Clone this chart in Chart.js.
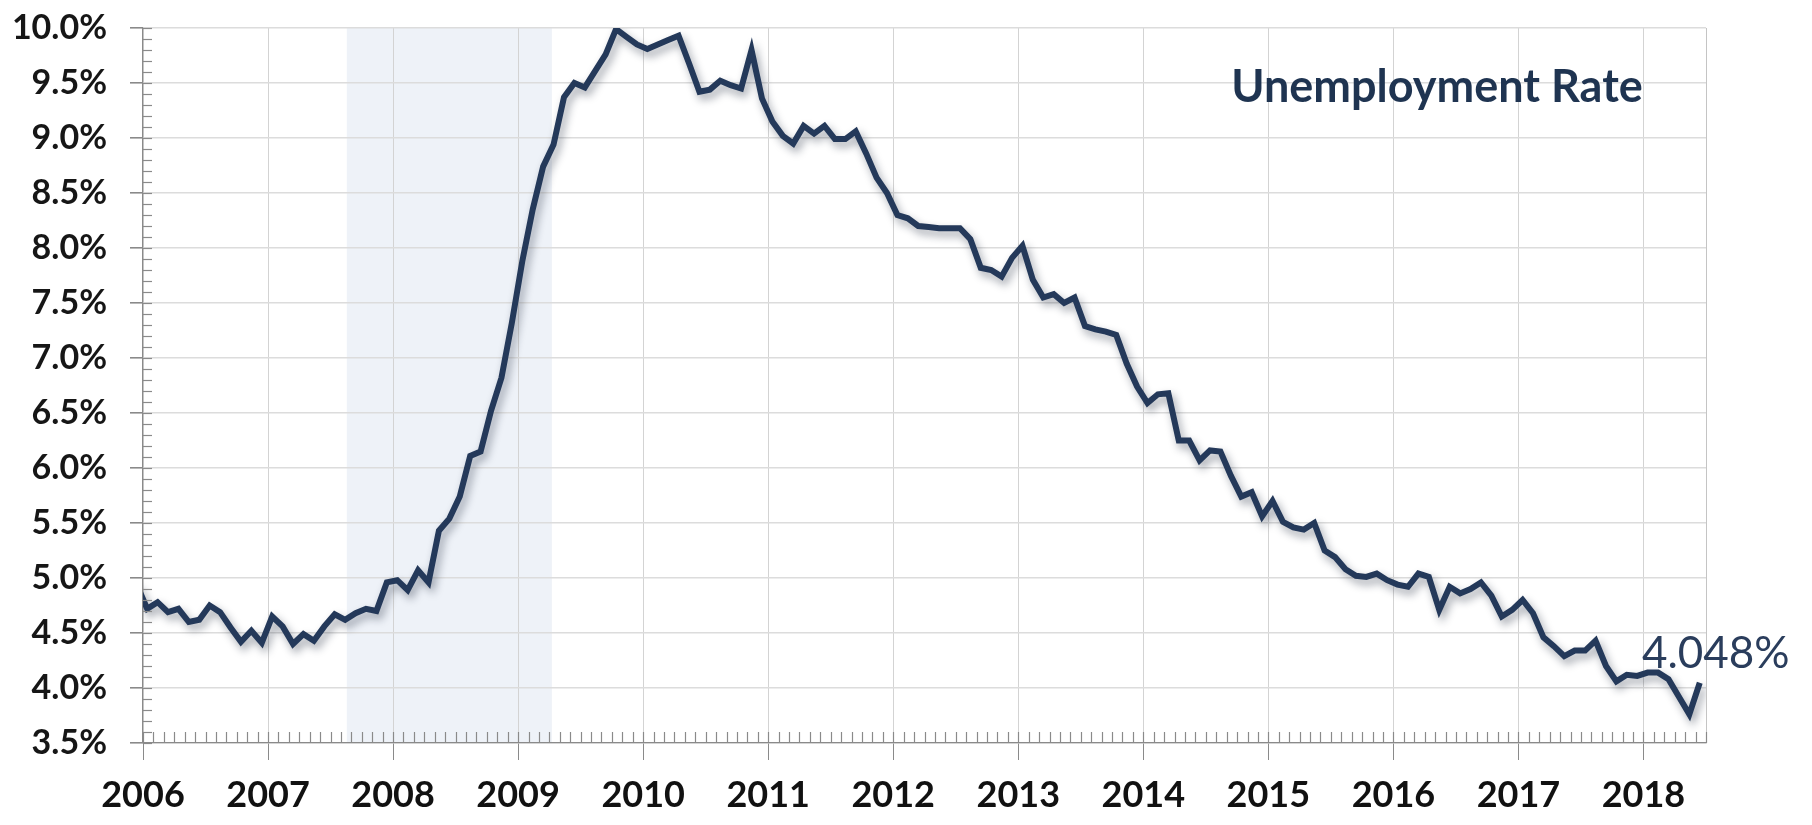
<!DOCTYPE html>
<html>
<head>
<meta charset="utf-8">
<script src="https://cdn.jsdelivr.net/npm/chart.js@4.4.1/dist/chart.umd.min.js"></script>
<style>
  html, body { margin: 0; padding: 0; background: #fff; }
  #wrap { width: 1812px; height: 825px; }
</style>
</head>
<body>
<div id="wrap"><canvas id="chart"></canvas></div>
<script>
// monthly unemployment rate (%)
const rateDec2005 = [4.94];
const rate2006 = [4.72, 4.78, 4.69, 4.72, 4.60, 4.62, 4.75, 4.69, 4.55, 4.42, 4.52, 4.41];
const rate2007 = [4.65, 4.56, 4.40, 4.49, 4.43, 4.56, 4.67, 4.62, 4.68, 4.72, 4.70, 4.96];
const rate2008 = [4.98, 4.89, 5.07, 4.96, 5.43, 5.54, 5.74, 6.11, 6.15, 6.52, 6.82, 7.32];
const rate2009 = [7.88, 8.35, 8.74, 8.94, 9.37, 9.50, 9.46, 9.61, 9.76, 9.99, 9.92, 9.85];
const rate2010 = [9.81, 9.85, 9.89, 9.93, 9.68, 9.42, 9.44, 9.52, 9.48, 9.45, 9.80, 9.36];
const rate2011 = [9.15, 9.02, 8.95, 9.11, 9.04, 9.11, 8.99, 8.99, 9.06, 8.86, 8.64, 8.50];
const rate2012 = [8.30, 8.27, 8.20, 8.19, 8.18, 8.18, 8.18, 8.08, 7.82, 7.80, 7.74, 7.91];
const rate2013 = [8.02, 7.71, 7.55, 7.58, 7.50, 7.55, 7.29, 7.26, 7.24, 7.21, 6.95, 6.74];
const rate2014 = [6.59, 6.67, 6.68, 6.25, 6.25, 6.07, 6.16, 6.15, 5.93, 5.74, 5.78, 5.56];
const rate2015 = [5.70, 5.51, 5.46, 5.44, 5.50, 5.25, 5.19, 5.08, 5.02, 5.01, 5.04, 4.98];
const rate2016 = [4.94, 4.92, 5.04, 5.01, 4.71, 4.92, 4.86, 4.90, 4.96, 4.84, 4.65, 4.71];
const rate2017 = [4.80, 4.68, 4.46, 4.38, 4.29, 4.34, 4.34, 4.43, 4.20, 4.06, 4.12, 4.11];
const rate2018 = [4.14, 4.14, 4.08, 3.92, 3.76, 4.048];

const yearTicks = [2006, 2007, 2008, 2009, 2010, 2011, 2012, 2013, 2014, 2015, 2016, 2017, 2018];
const xMin = 2006, xMax = 2018.5;
const yMin = 3.5, yMax = 10.0, yStep = 0.5;
const recessionStart = 2007.63, recessionEnd = 2009.27;

const byYear = [
  [2005, rateDec2005, 11],
  [2006, rate2006, 0], [2007, rate2007, 0], [2008, rate2008, 0], [2009, rate2009, 0],
  [2010, rate2010, 0], [2011, rate2011, 0], [2012, rate2012, 0], [2013, rate2013, 0],
  [2014, rate2014, 0], [2015, rate2015, 0], [2016, rate2016, 0], [2017, rate2017, 0],
  [2018, rate2018, 0]
];
const points = [];
byYear.forEach(([yr, vals, first]) => {
  vals.forEach((v, i) => points.push({ x: yr + (first + i + 0.4) / 12, y: v }));
});
const lastValue = rate2018[rate2018.length - 1];

const FONT = 'Lato, "Open Sans", sans-serif';
const LINE = '#24395a';

const decor = {
  id: 'decor',
  beforeDraw(chart) {
    const { ctx, chartArea: a, scales: { x } } = chart;
    const x0 = x.getPixelForValue(recessionStart), x1 = x.getPixelForValue(recessionEnd);
    ctx.save();
    ctx.fillStyle = '#eef2f8';
    ctx.fillRect(x0, a.top, x1 - x0, a.bottom - a.top);
    ctx.restore();
  },
  beforeDatasetDraw(chart) {
    const ctx = chart.ctx;
    ctx.save();
    ctx.shadowColor = 'rgba(20,30,50,0.4)';
    ctx.shadowBlur = 8;
    ctx.shadowOffsetX = 3;
    ctx.shadowOffsetY = 5;
  },
  afterDatasetDraw(chart) {
    chart.ctx.restore();
  },
  afterDraw(chart) {
    const { ctx, chartArea: a, scales: { x, y } } = chart;
    ctx.save();
    ctx.strokeStyle = '#8a8a8a';
    ctx.lineWidth = 1.2;
    // monthly ticks along the bottom axis
    for (let k = 0; k <= (xMax - xMin) * 12; k++) {
      const px = Math.round(x.getPixelForValue(xMin + k / 12)) + 0.5;
      ctx.beginPath();
      ctx.moveTo(px, a.bottom - 11);
      ctx.lineTo(px, a.bottom);
      ctx.stroke();
    }
    // 0.1% ticks inside the left axis
    for (let j = Math.round(yMin * 10); j <= Math.round(yMax * 10); j++) {
      const py = Math.round(y.getPixelForValue(j / 10)) + 0.5;
      ctx.beginPath();
      ctx.moveTo(a.left, py);
      ctx.lineTo(a.left + 9, py);
      ctx.stroke();
    }
    // title inside the plot
    ctx.fillStyle = '#1f3451';
    ctx.font = 'bold 45px ' + FONT;
    ctx.textAlign = 'center';
    ctx.textBaseline = 'alphabetic';
    ctx.fillText('Unemployment Rate', 1437, 102);
    // last value label
    const meta = chart.getDatasetMeta(0);
    const last = meta.data[meta.data.length - 1];
    ctx.fillStyle = '#2a3d5c';
    ctx.font = '44px ' + FONT;
    ctx.fillText(lastValue.toFixed(3) + '%', last.x + 16, last.y - 15);
    ctx.restore();
  }
};

new Chart(document.getElementById('chart'), {
  type: 'line',
  data: {
    datasets: [{
      label: 'Unemployment Rate',
      data: points,
      borderColor: LINE,
      borderWidth: 6,
      pointRadius: 0,
      tension: 0,
      fill: false,
      borderJoinStyle: 'miter'
    }]
  },
  options: {
    responsive: true,
    maintainAspectRatio: false,
    animation: false,
    layout: { padding: { top: 28, right: 106, left: 0, bottom: 0 } },
    plugins: { legend: { display: false }, tooltip: { enabled: false } },
    scales: {
      x: {
        type: 'linear',
        min: xMin,
        max: xMax,
        afterBuildTicks: s => { s.ticks = yearTicks.concat([xMax]).map(v => ({ value: v })); },
        afterFit: s => { s.height = 82; },
        border: { display: true, color: '#8a8a8a', width: 1.2 },
        grid: {
          color: c => (c.tick && c.tick.value === xMax) ? '#c4c4c4' : '#d3d3d3',
          lineWidth: 1,
          tickLength: 17,
          tickColor: c => (c.tick && c.tick.value === xMax) ? 'rgba(0,0,0,0)' : '#8a8a8a'
        },
        ticks: {
          autoSkip: false,
          maxRotation: 0,
          padding: 14,
          color: '#111',
          font: { family: FONT, size: 36, weight: 'bold' },
          callback: v => (v === xMax ? '' : String(v))
        }
      },
      y: {
        min: yMin,
        max: yMax,
        afterFit: s => { s.width = 143; s.paddingTop = 10; s.paddingBottom = 10; },
        border: { display: true, color: '#8a8a8a', width: 1.2 },
        grid: { color: '#dcdcdc', lineWidth: 1.6, tickLength: 13, tickColor: '#8a8a8a' },
        ticks: {
          stepSize: yStep,
          padding: 23,
          color: '#161616',
          font: { family: FONT, size: 34, weight: 'bold' },
          callback: v => v.toFixed(1) + '%'
        }
      }
    }
  },
  plugins: [decor]
});
</script>
</body>
</html>
